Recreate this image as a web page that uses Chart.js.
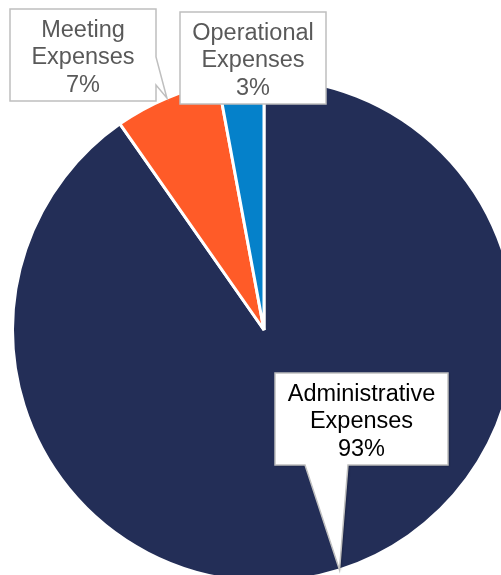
<!DOCTYPE html>
<html>
<head>
<meta charset="utf-8">
<script src="https://cdn.jsdelivr.net/npm/chart.js"></script>
<style>
    html, body { margin: 0; padding: 0; overflow: hidden; background: #fff; }
    canvas { position: absolute; left: 0; top: 0; }
</style>
</head>
<body>
<canvas id="pie" width="528" height="583"></canvas>
<script>
// chart data
const categories = ['Administrative Expenses', 'Meeting Expenses', 'Operational Expenses'];
const values = [93, 7, 3];
const sliceColors = ['#232e57', '#ff5b28', '#0581ca'];

// callout boxes, same order as the categories
const callouts = [
    { x: 275, y: 373, w: 173, h: 92, color: '#000000', tail: 'bottom', base: [305, 348] },
    { x: 10, y: 9, w: 146, h: 92, color: '#595959', tail: 'right', base: [57, 85] },
    { x: 180, y: 12, w: 146, h: 92, color: '#595959', tail: null }
];

const calloutPlugin = {
    id: 'callouts',
    afterDraw(chart) {
        const ctx = chart.ctx;
        const arcs = chart.getDatasetMeta(0).data;
        arcs.forEach((arc, i) => {
            const box = callouts[i];
            const mid = (arc.startAngle + arc.endAngle) / 2;
            const tipX = arc.x + Math.cos(mid) * arc.outerRadius;
            const tipY = arc.y + Math.sin(mid) * arc.outerRadius;
            const x0 = box.x, y0 = box.y, x1 = box.x + box.w, y1 = box.y + box.h;

            ctx.save();
            ctx.beginPath();
            ctx.moveTo(x0, y0);
            ctx.lineTo(x1, y0);
            if (box.tail === 'right') {
                ctx.lineTo(x1, box.base[0]);
                ctx.lineTo(tipX, tipY);
                ctx.lineTo(x1, box.base[1]);
            }
            ctx.lineTo(x1, y1);
            if (box.tail === 'bottom') {
                ctx.lineTo(box.base[1], y1);
                ctx.lineTo(tipX, tipY);
                ctx.lineTo(box.base[0], y1);
            }
            ctx.lineTo(x0, y1);
            ctx.closePath();
            ctx.fillStyle = '#ffffff';
            if (box.tail === 'bottom') {
                ctx.shadowColor = 'rgba(0,0,0,0.35)';
                ctx.shadowBlur = 2;
                ctx.shadowOffsetX = 1;
                ctx.shadowOffsetY = 1;
            }
            ctx.fill();
            ctx.shadowColor = 'transparent';
            ctx.strokeStyle = '#bfbfbf';
            ctx.lineWidth = 1.5;
            ctx.stroke();

            // text
            const lines = categories[i].split(' ').concat([values[i] + '%']);
            ctx.fillStyle = box.color;
            ctx.font = '23.5px "Liberation Sans", Arial, sans-serif';
            ctx.textAlign = 'center';
            ctx.textBaseline = 'middle';
            const cx = (x0 + x1) / 2;
            const cy = (y0 + y1) / 2 + 3;
            const lh = 27.5;
            lines.forEach((t, k) => {
                ctx.fillText(t, cx, cy + (k - (lines.length - 1) / 2) * lh);
            });
            ctx.restore();
        });
    }
};

const ctx = document.getElementById('pie');
new Chart(ctx, {
    type: 'pie',
    data: {
        labels: categories,
        datasets: [{
            data: values,
            backgroundColor: sliceColors,
            borderColor: '#ffffff',
            borderWidth: 3,
            hoverOffset: 0
        }]
    },
    options: {
        responsive: false,
        animation: false,
        events: [],
        layout: {
            padding: { left: 11, right: 11, top: 77, bottom: 0 }
        },
        plugins: {
            legend: { display: false },
            tooltip: { enabled: false }
        }
    },
    plugins: [calloutPlugin]
});
</script>
</body>
</html>
